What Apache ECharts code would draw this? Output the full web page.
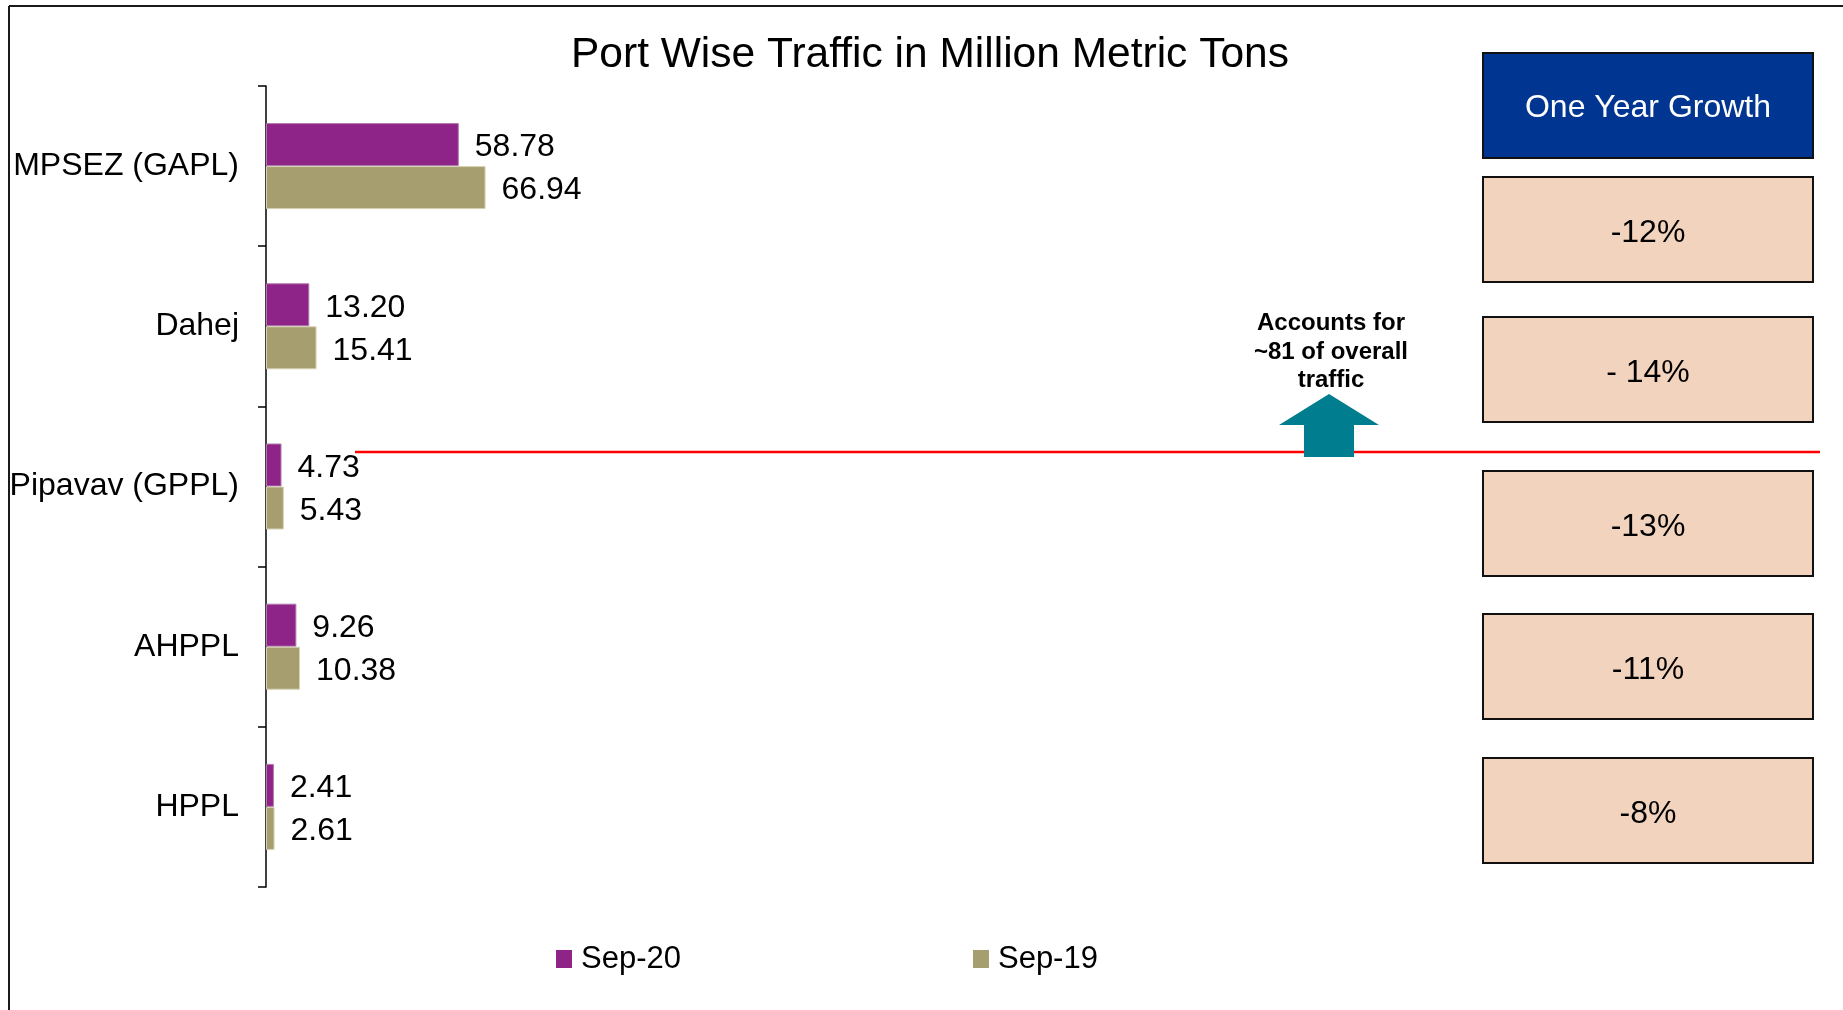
<!DOCTYPE html>
<html>
<head>
<meta charset="utf-8">
<title>Port Wise Traffic</title>
<script src="https://cdn.jsdelivr.net/npm/echarts@6/dist/echarts.min.js"></script>
<style>
  html, body { margin: 0; padding: 0; background: #fff; }
  #chart { width: 1843px; height: 1010px; }
</style>
</head>
<body>
<div id="chart"></div>
<script>
const ports = ['MPSEZ (GAPL)', 'Dahej', 'Pipavav (GPPL)', 'AHPPL', 'HPPL'];
const seriesNames = ['Sep-20', 'Sep-19'];
const sep20 = [58.78, 13.20, 4.73, 9.26, 2.41];
const sep19 = [66.94, 15.41, 5.43, 10.38, 2.61];
const growth = ['-12%', '- 14%', '-13%', '-11%', '-8%'];
const growthTitle = 'One Year Growth';
const noteLines = ['Accounts for', '~81 of overall', 'traffic'];

const FONT = 'Liberation Sans, Arial, sans-serif';
const colors = ['#8e2388', '#a69e6e'];

// layout of the side boxes (pixels)
const boxLeft = 1483;
const boxWidth = 330;
const boxHeight = 105;
const headerTop = 53;
const boxTops = [177, 317, 471, 614, 758];

function buildGraphics() {
  const g = [];
  // frame: top and left edges only
  g.push({ type: 'line', shape: { x1: 9, y1: 6, x2: 1843, y2: 6 }, style: { stroke: '#1a1a1a', lineWidth: 2 } });
  g.push({ type: 'line', shape: { x1: 9, y1: 6, x2: 9, y2: 1010 }, style: { stroke: '#1a1a1a', lineWidth: 2 } });

  // header box
  g.push({
    type: 'rect',
    shape: { x: boxLeft, y: headerTop, width: boxWidth, height: boxHeight },
    style: { fill: '#003591', stroke: '#111', lineWidth: 2 }
  });
  g.push({
    type: 'text',
    x: boxLeft + boxWidth / 2,
    y: headerTop + boxHeight / 2 + 3,
    style: { text: growthTitle, fill: '#fff', font: '32px ' + FONT, align: 'center', verticalAlign: 'middle' }
  });

  growth.forEach((txt, i) => {
    g.push({
      type: 'rect',
      shape: { x: boxLeft, y: boxTops[i], width: boxWidth, height: boxHeight },
      style: { fill: '#f2d3be', stroke: '#111', lineWidth: 2 }
    });
    g.push({
      type: 'text',
      x: boxLeft + boxWidth / 2,
      y: boxTops[i] + boxHeight / 2 + 4,
      style: { text: txt, fill: '#000', font: '32px ' + FONT, align: 'center', verticalAlign: 'middle' }
    });
  });

  // red divider line
  g.push({ type: 'line', shape: { x1: 355, y1: 452, x2: 1820, y2: 452 }, style: { stroke: '#ff0000', lineWidth: 2.5 } });

  // teal up arrow
  g.push({
    type: 'polygon',
    shape: {
      points: [[1329, 394], [1379, 425], [1354, 425], [1354, 457], [1304, 457], [1304, 425], [1279, 425]]
    },
    style: { fill: '#007d8e' }
  });

  g.push({
    type: 'text',
    x: 1331,
    y: 352,
    style: {
      text: noteLines.join('\n'),
      fill: '#000',
      font: 'bold 24px ' + FONT,
      lineHeight: 28.5,
      align: 'center',
      verticalAlign: 'middle'
    }
  });
  return g;
}

function valueLabel() {
  return {
    show: true,
    position: 'right',
    distance: 16,
    offset: [0, 3],
    color: '#000',
    fontFamily: FONT,
    fontSize: 32,
    formatter: p => p.value.toFixed(2)
  };
}

const chart = echarts.init(document.getElementById('chart'));

chart.setOption({
  animation: false,
  title: {
    text: 'Port Wise Traffic in Million Metric Tons',
    left: 571,
    top: 34,
    padding: 0,
    textStyle: { fontFamily: FONT, fontSize: 42.5, fontWeight: 'normal', color: '#000', lineHeight: 42 }
  },
  legend: {
    data: seriesNames,
    left: 556,
    top: 943,
    icon: 'rect',
    itemWidth: 16,
    itemHeight: 18,
    itemGap: 292,
    padding: 0,
    itemStyle: { borderWidth: 0 },
    textStyle: { fontFamily: FONT, fontSize: 31, color: '#000', lineHeight: 32, padding: [0, 0, 0, 4] }
  },
  grid: { left: 266, top: 86, height: 801, width: 656, containLabel: false },
  xAxis: {
    type: 'value',
    min: 0,
    max: 200,
    show: false
  },
  yAxis: {
    type: 'category',
    data: ports,
    inverse: true,
    axisLine: { show: true, lineStyle: { color: '#000', width: 1.5 } },
    axisTick: { show: true, length: 8, lineStyle: { color: '#000', width: 1.5 } },
    axisLabel: { color: '#000', fontFamily: FONT, fontSize: 32, margin: 27, padding: [8, 0, 0, 0] },
    splitLine: { show: false }
  },
  series: [
    {
      name: seriesNames[0],
      type: 'bar',
      data: sep20,
      barWidth: 43,
      barGap: '0%',
      itemStyle: { color: colors[0], borderColor: '#b07aac', borderWidth: 1 },
      label: valueLabel()
    },
    {
      name: seriesNames[1],
      type: 'bar',
      data: sep19,
      barWidth: 43,
      barGap: '0%',
      itemStyle: { color: colors[1], borderColor: '#d6d1b4', borderWidth: 1 },
      label: valueLabel()
    }
  ],
  graphic: buildGraphics()
});
</script>
</body>
</html>
